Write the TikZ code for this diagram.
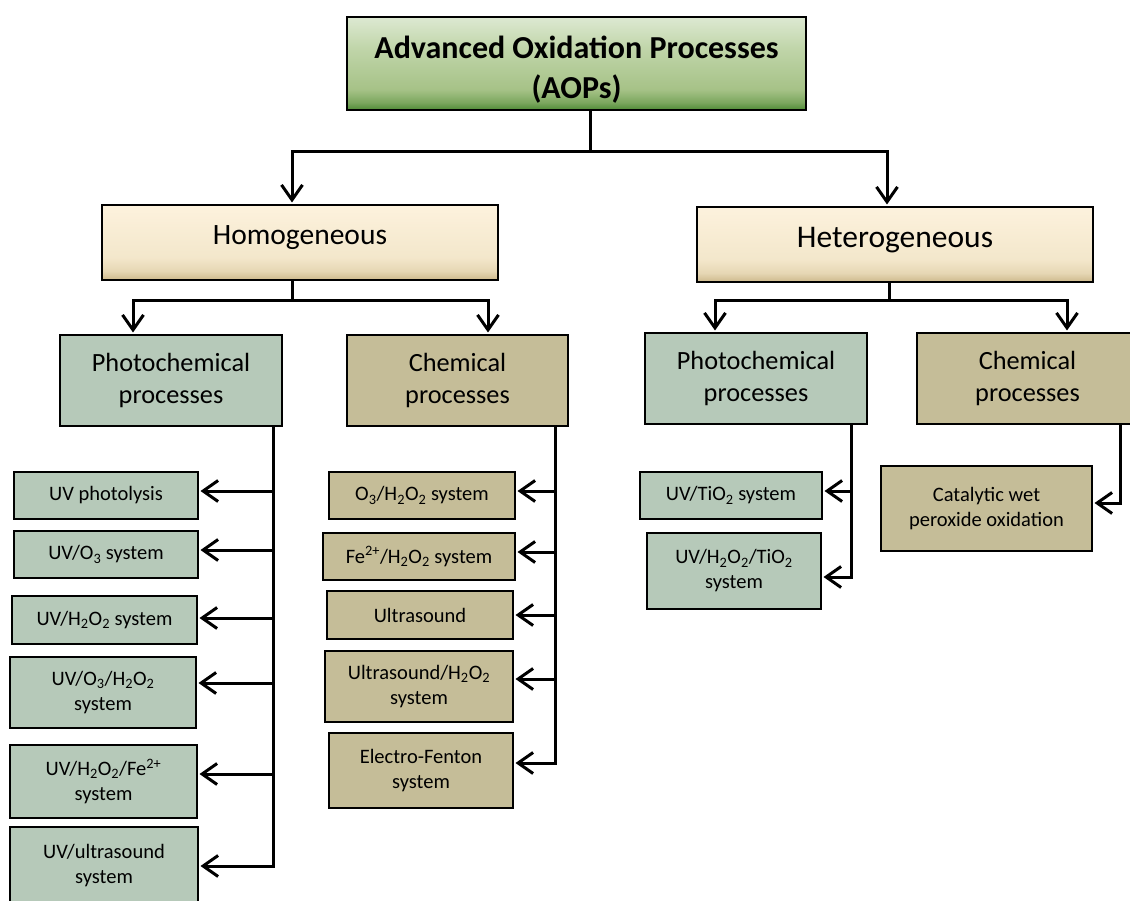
\documentclass[tikz,border=0pt]{standalone}
\usepackage{fontspec}
\setmainfont{Carlito}
\usetikzlibrary{arrows.meta}
\definecolor{photoC}{HTML}{B6C9B9}
\definecolor{chemC}{HTML}{C5BD98}
\definecolor{gA}{HTML}{4E8A35}
\definecolor{gB}{HTML}{7BA75E}
\definecolor{gC}{HTML}{A6C287}
\definecolor{gD}{HTML}{C0D5A9}
\definecolor{gE}{HTML}{DDE9D2}
\definecolor{cA}{HTML}{CDB98C}
\definecolor{cB}{HTML}{E6D7B4}
\definecolor{cC}{HTML}{F3E7CB}
\definecolor{cD}{HTML}{FDF2DD}
\pgfdeclareverticalshading{greenshade}{100bp}{color(0bp)=(gA); color(25bp)=(gA); color(29bp)=(gB); color(36bp)=(gC); color(58bp)=(gD); color(75bp)=(gE); color(100bp)=(gE)}
\pgfdeclareverticalshading{creamshade}{100bp}{color(0bp)=(cA); color(25bp)=(cA); color(31bp)=(cB); color(40bp)=(cC); color(75bp)=(cD); color(100bp)=(cD)}
\newcommand{\chsub}[1]{\textsubscript{#1}}
\newcommand{\chsup}[1]{\textsuperscript{#1}}
\begin{document}
\begin{tikzpicture}[x=1pt,y=-1pt,
  box/.style={draw=black, line width=2pt, inner sep=2pt, align=center, text=black},
  photo/.style={box, fill=photoC},
  chem/.style={box, fill=chemC},
  mid/.style={font=\fontsize{26.3}{32}\selectfont},
  small/.style={font=\fontsize{20.5}{25}\selectfont},
  conn/.style={line width=3pt, draw=black},
  arr/.style={conn, shorten >=1.5pt, -{Straight Barb[length=15pt,width=21pt]}}]
\clip (0,0) rectangle (1130,901);
\fill[white] (0,0) rectangle (1130,901);

% top
\node[box, shade, shading=greenshade, minimum width=459pt, minimum height=93pt] (top) at (576.5,63.5) {};
\node[align=center, inner sep=0pt, font=\fontsize{32}{40}\selectfont\bfseries] (topT) at (576.5,70) {Advanced Oxidation Processes\\(AOPs)};
% level 1
\node[box, shade, shading=creamshade, minimum width=396pt, minimum height=75pt, text depth=14pt,
  font=\fontsize{29.5}{36}\selectfont] (homo) at (300,242.5) {Homogeneous};
\node[box, shade, shading=creamshade, minimum width=396pt, minimum height=75pt, text depth=14pt,
  font=\fontsize{31.5}{38}\selectfont] (het) at (895,244.5) {Heterogeneous};
% level 2
\node[photo, mid, minimum width=222pt, minimum height=91pt] (photoL) at (171,380.5) {Photochemical\\processes};
\node[chem, mid, minimum width=221pt, minimum height=91pt] (chemL) at (457.5,380.5) {Chemical\\processes};
\node[photo, mid, minimum width=222pt, minimum height=91pt] (photoR) at (756,378.5) {Photochemical\\processes};
\node[chem, mid, minimum width=221pt, minimum height=91pt] (chemR) at (1027.5,378.5) {Chemical\\processes};
% left column
\node[photo, small, minimum width=184pt, minimum height=47pt] (uvp) at (106,495.5) {UV photolysis};
\node[photo, small, minimum width=184pt, minimum height=47pt] (uvo) at (106,554.5) {UV/O\chsub{3} system};
\node[photo, small, minimum width=185pt, minimum height=48pt] (uvh) at (104.5,620) {UV/H\chsub{2}O\chsub{2} system};
\node[photo, small, minimum width=186pt, minimum height=71pt] (uvoh) at (103,692.5) {UV/O\chsub{3}/H\chsub{2}O\chsub{2}\\system};
\node[photo, small, minimum width=187pt, minimum height=73pt] (uvhf) at (103.5,781.5) {UV/H\chsub{2}O\chsub{2}/Fe\chsup{2+}\\system};
\node[photo, small, minimum width=188pt, minimum height=78pt] (uvus) at (104,866) {UV/ultrasound\\system};
% middle column
\node[chem, small, minimum width=186pt, minimum height=47pt] (oh) at (422,495.5) {O\chsub{3}/H\chsub{2}O\chsub{2} system};
\node[chem, small, minimum width=192pt, minimum height=47pt] (fe) at (419,556.5) {Fe\chsup{2+}/H\chsub{2}O\chsub{2} system};
\node[chem, small, minimum width=186pt, minimum height=48pt] (us) at (420,615) {Ultrasound};
\node[chem, small, minimum width=188pt, minimum height=71pt] (ush) at (419,686.5) {Ultrasound/H\chsub{2}O\chsub{2}\\system};
\node[chem, small, minimum width=184pt, minimum height=75pt] (ef) at (421,770.5) {Electro-Fenton\\system};
% right
\node[photo, small, minimum width=182pt, minimum height=47pt] (uvt) at (731,495.5) {UV/TiO\chsub{2} system};
\node[photo, small, minimum width=174pt, minimum height=76pt] (uvht) at (734,571) {UV/H\chsub{2}O\chsub{2}/TiO\chsub{2}\\system};
\node[chem, small, minimum width=211pt, minimum height=85pt] (cw) at (986.5,508.5) {Catalytic wet\\peroxide oxidation};

% connectors top
\coordinate (jT) at (590,152);
\coordinate (aHo) at (292,0);
\coordinate (aHe) at (887,0);
\draw[conn] (top.south -| jT) -- (jT);
\draw[arr] (jT) -| (homo.north -| aHo);
\draw[arr] (jT) -| (het.north -| aHe);
% homogeneous children
\coordinate (jH) at (292,301);
\coordinate (aPL) at (133,0);
\coordinate (aCL) at (488,0);
\draw[conn] (homo.south -| jH) -- (jH);
\draw[arr] (jH) -| (photoL.north -| aPL);
\draw[arr] (jH) -| (chemL.north -| aCL);
% heterogeneous children
\coordinate (jE) at (889,301);
\coordinate (aPR) at (715,0);
\coordinate (aCR) at (1067,0);
\draw[conn] (het.south -| jE) -- (jE);
\draw[arr] (jE) -| (photoR.north -| aPR);
\draw[arr] (jE) -| (chemR.north -| aCR);
% left spine
\coordinate (sL) at (273,0);
\draw[arr] (photoL.south -| sL) |- (uvus.east);
\draw[arr] ([yshift=4.5pt]uvp.east -| sL) -- ([yshift=4.5pt]uvp.east);
\draw[arr] ([yshift=4.5pt]uvo.east -| sL) -- ([yshift=4.5pt]uvo.east);
\draw[arr] ([yshift=2pt]uvh.east -| sL) -- ([yshift=2pt]uvh.east);
\draw[arr] ([yshift=9.5pt]uvoh.east -| sL) -- ([yshift=9.5pt]uvoh.east);
\draw[arr] ([yshift=7.5pt]uvhf.east -| sL) -- ([yshift=7.5pt]uvhf.east);
% middle spine
\coordinate (sM) at (555,0);
\draw[arr] (chemL.south -| sM) |- ([yshift=7.5pt]ef.east);
\draw[arr] ([yshift=4.5pt]oh.east -| sM) -- ([yshift=4.5pt]oh.east);
\draw[arr] ([yshift=4.5pt]fe.east -| sM) -- ([yshift=4.5pt]fe.east);
\draw[arr] (us.east -| sM) -- (us.east);
\draw[arr] ([yshift=7.5pt]ush.east -| sM) -- ([yshift=7.5pt]ush.east);
% right spines
\coordinate (sR) at (851,0);
\draw[arr] (photoR.south -| sR) |- ([yshift=-6pt]uvht.east);
\draw[arr] ([yshift=4.5pt]uvt.east -| sR) -- ([yshift=4.5pt]uvt.east);
\coordinate (sC) at (1120,0);
\draw[arr] (chemR.south -| sC) |- ([yshift=5.5pt]cw.east);
\end{tikzpicture}
\end{document}
